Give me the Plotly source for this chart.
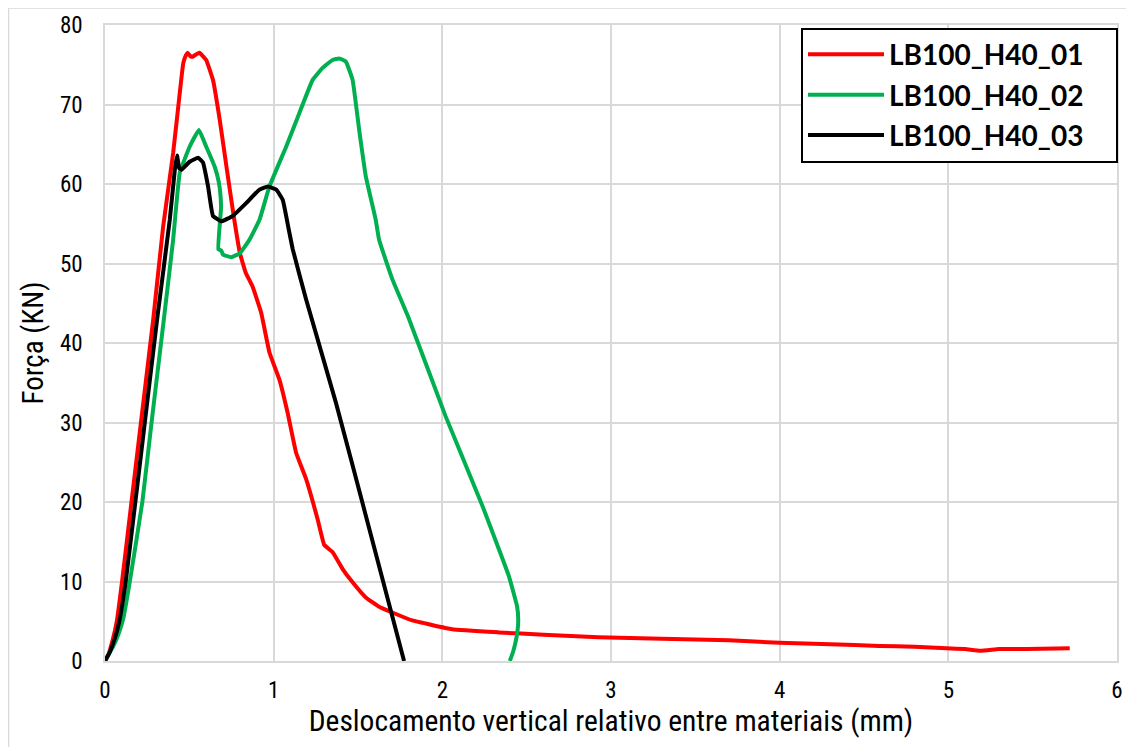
import plotly.graph_objects as go

# ---- data ----
series_names = ["LB100_H40_01", "LB100_H40_02", "LB100_H40_03"]

x_01 = [0.0, 0.02, 0.045, 0.07, 0.101, 0.157, 0.213, 0.286, 0.345, 0.404, 0.443, 0.464, 0.48, 0.49,
        0.505, 0.52, 0.54, 0.56, 0.60, 0.64, 0.68, 0.72, 0.76, 0.80, 0.835, 0.875, 0.926,
        0.975, 1.034, 1.083, 1.133, 1.192, 1.261, 1.30, 1.349, 1.408, 1.468, 1.546, 1.62,
        1.704, 1.822, 2.058, 2.334, 2.60, 2.925, 3.3, 3.7, 4.0, 4.3, 4.59, 4.8, 4.99, 5.1,
        5.19, 5.3, 5.38, 5.55, 5.72]
y_01 = [0.0, 0.8, 2.6, 5.0, 10.0, 20.0, 30.0, 43.0, 54.7, 63.9, 71.4, 75.2, 76.2, 76.5,
        76.1, 76.0, 76.3, 76.5, 75.6, 73.1, 68.1, 62.2, 56.4, 51.3, 48.8, 47.1, 43.8,
        38.8, 35.4, 31.2, 26.2, 22.9, 17.8, 14.6, 13.7, 11.6, 9.9, 8.0, 6.9,
        6.1, 5.1, 4.0, 3.6, 3.3, 3.0, 2.8, 2.6, 2.3, 2.1, 1.9, 1.8, 1.6, 1.5,
        1.3, 1.5, 1.5, 1.55, 1.6]

x_02 = [0.0, 0.05, 0.08, 0.108, 0.148, 0.222, 0.276, 0.349, 0.404, 0.443, 0.502, 0.557, 0.60, 0.65,
        0.675, 0.685, 0.688, 0.672, 0.69, 0.70, 0.749, 0.80, 0.857, 0.916, 0.975, 1.074,
        1.152, 1.231, 1.29, 1.349, 1.389, 1.428, 1.468, 1.507, 1.546, 1.605, 1.625, 1.704,
        1.803, 2.019, 2.236, 2.394, 2.443, 2.45, 2.44, 2.42, 2.40]
y_02 = [0.0, 1.9, 3.4, 5.3, 10.1, 20.1, 30.0, 43.0, 53.0, 61.4, 64.7, 66.8, 64.7, 62.2,
        60.2, 58.5, 57.0, 51.8, 51.6, 51.1, 50.8, 51.3, 53.0, 55.5, 59.7, 64.7,
        68.9, 73.1, 74.6, 75.6, 75.8, 75.4, 73.1, 66.8, 61.0, 55.5, 53.0, 48.0,
        43.0, 30.8, 19.6, 10.7, 6.9, 5.0, 3.0, 1.2, 0.0]

x_03 = [0.0, 0.03, 0.058, 0.085, 0.123, 0.18, 0.236, 0.309, 0.384, 0.414, 0.427, 0.44, 0.453, 0.502,
        0.552, 0.581, 0.611, 0.64, 0.69, 0.758, 0.837, 0.916, 0.965, 1.015, 1.054, 1.093,
        1.113, 1.192, 1.369, 1.55, 1.773]
y_03 = [0.0, 1.2, 2.8, 5.0, 10.0, 20.0, 30.0, 43.0, 55.5, 61.8, 63.6, 62.0, 61.8, 62.8,
        63.3, 62.7, 59.7, 56.0, 55.3, 56.0, 57.6, 59.3, 59.7, 59.3, 58.0, 53.9,
        51.8, 45.5, 32.5, 18.0, 0.0]

colors = ["#FF0000", "#00B050", "#000000"]
x_ticks = [0, 1, 2, 3, 4, 5, 6]
y_ticks = [0, 10, 20, 30, 40, 50, 60, 70, 80]

x_title = "Deslocamento vertical relativo entre materiais (mm)"
y_title = "Força (KN)"

# ---- figure ----
NARROW = "Liberation Sans Narrow, Arial Narrow, Roboto Condensed, Roboto, sans-serif"
PAD = "\u00a0" * 4  # right padding inside the legend box

fig = go.Figure()
for name, xs, ys, c in zip(series_names, [x_01, x_02, x_03], [y_01, y_02, y_03], colors):
    fig.add_trace(go.Scatter(x=xs, y=ys, name=name + PAD, mode="lines", legendgroup=name,
                             line=dict(color=c, width=4, shape="spline", smoothing=0.3)))

grid = "#D9D9D9"
# the page body has an 8px margin: the figure is sized/placed to compensate
fig.update_layout(
    width=1126, height=739,
    margin=dict(l=97, r=17, t=17, b=86, autoexpand=False),
    paper_bgcolor="white", plot_bgcolor="white",
    font=dict(family=NARROW, size=23, color="#000000"),
    showlegend=True,
    legend=dict(x=1.001, y=0.996, xanchor="right", yanchor="top",
                bgcolor="white", bordercolor="#000000", borderwidth=2,
                font=dict(family="Lato, sans-serif", size=28, color="#000000", weight="bold"),
                itemwidth=76, tracegroupgap=1),
    xaxis=dict(range=[0, 6], tickvals=x_ticks, ticktext=[str(v) for v in x_ticks],
               showgrid=True, gridcolor=grid, gridwidth=1.5, automargin=False,
               showline=True, linecolor=grid, linewidth=1.5, mirror=True,
               zeroline=False, ticks="", ticklabelstandoff=8,
               tickfont=dict(family=NARROW, size=23),
               title=dict(text=x_title, font=dict(family=NARROW, size=29.5), standoff=6)),
    yaxis=dict(range=[0, 80], tickvals=y_ticks, ticktext=[str(v) for v in y_ticks],
               showgrid=True, gridcolor=grid, gridwidth=1.5, automargin=False,
               showline=True, linecolor=grid, linewidth=1.5, mirror=True,
               zeroline=False, ticks="", ticklabelstandoff=16,
               tickfont=dict(family=NARROW, size=23),
               title=dict(text=y_title, font=dict(family=NARROW, size=29), standoff=8)),
    shapes=[dict(type="rect", xref="paper", yref="paper",
                 x0=(8.5 - 105) / 1012, x1=1.05, y0=-0.2, y1=1 + 17 / 636,
                 line=dict(color=grid, width=1.5), fillcolor="rgba(0,0,0,0)", layer="below")],
)

fig.write_html("out.html")
